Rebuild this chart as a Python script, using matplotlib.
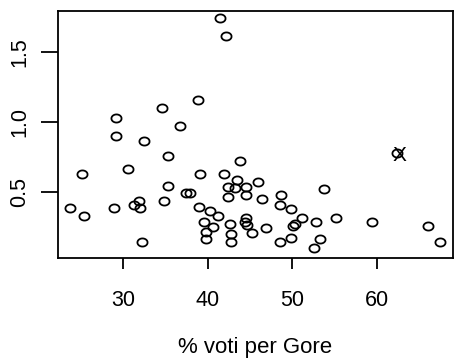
import matplotlib
matplotlib.use("Agg")
import matplotlib.pyplot as plt
from matplotlib.path import Path
import numpy as np

# % votes for Gore vs. response, one point per county
gore_pct = [41.4, 42.2, 38.8, 34.6, 29.1, 36.7, 29.1, 32.5, 35.3, 43.8,
            25.1, 30.6, 39.1, 41.9, 46.0, 43.4, 42.4, 43.2, 44.5, 42.4,
            44.5, 35.3, 37.4, 37.9, 46.4, 48.7, 48.5, 49.9, 53.8, 23.7,
            25.3, 28.9, 31.8, 31.3, 32.0, 34.8, 38.9, 40.3, 41.2, 39.6,
            40.6, 42.6, 44.5, 44.4, 44.6, 46.9, 45.2, 39.8, 39.8, 42.8,
            42.8, 32.2, 48.5, 49.9, 50.3, 50.1, 51.1, 52.8, 55.2, 59.4,
            66.1, 67.5, 53.3, 52.6, 62.4]
response = [1.743, 1.616, 1.159, 1.100, 1.031, 0.974, 0.904, 0.869, 0.757, 0.724,
            0.631, 0.664, 0.629, 0.629, 0.571, 0.588, 0.540, 0.529, 0.540, 0.469,
            0.481, 0.547, 0.493, 0.493, 0.450, 0.481, 0.409, 0.379, 0.524, 0.388,
            0.331, 0.388, 0.436, 0.409, 0.388, 0.436, 0.397, 0.366, 0.331, 0.286,
            0.254, 0.271, 0.319, 0.288, 0.266, 0.243, 0.207, 0.214, 0.166, 0.200,
            0.147, 0.147, 0.147, 0.171, 0.271, 0.261, 0.319, 0.286, 0.319, 0.286,
            0.259, 0.147, 0.169, 0.100, 0.783]
# the flagged county
flag_x, flag_y = 62.4, 0.783

x_ticks = [30, 40, 50, 60]
y_ticks = [0.5, 1.0, 1.5]

plt.rcParams['font.family'] = ['Liberation Sans', 'DejaVu Sans']

fig = plt.figure(figsize=(4.57, 3.60), dpi=100)
ax = fig.add_axes([58 / 457, 102 / 360, 395 / 457, 247 / 360])

# slightly wide open circle
t = np.linspace(0, 2 * np.pi, 60)
ring = Path(np.column_stack([1.25 * np.cos(t), np.sin(t)]))

ax.plot(gore_pct, response, linestyle='none', marker=ring, markersize=7.3,
        markerfacecolor='none', markeredgecolor='black', markeredgewidth=1.3)
ax.text(flag_x + 0.3, flag_y - 0.02, "X", fontsize=15, ha='center', va='center')

ax.set_xlim(22.27, 69.02)
ax.set_ylim(0.031, 1.795)

ax.set_xticks(x_ticks)
ax.set_xticklabels([str(v) for v in x_ticks], fontsize=15.5)
ax.set_yticks(y_ticks)
ax.set_yticklabels([f"{v:.1f}" for v in y_ticks], fontsize=15.5,
                   rotation=90, va='center')
ax.tick_params(axis='x', length=8, width=1.3, pad=15)
ax.tick_params(axis='y', length=12, width=1.3, pad=8)
for s in ax.spines.values():
    s.set_linewidth(1.3)

fig.text(255.5 / 457, 7 / 360, "% voti per Gore", fontsize=16,
         ha='center', va='baseline')

fig.savefig("out.png", dpi=100)
